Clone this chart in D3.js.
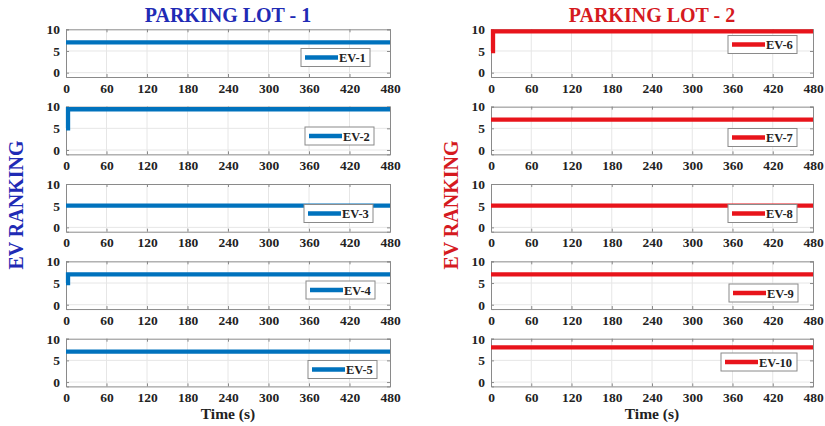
<!DOCTYPE html>
<html><head><meta charset="utf-8">
<script src="https://cdn.jsdelivr.net/npm/d3@7"></script>
<style>
body{margin:0;background:#fff}
svg{display:block}
text{font-family:"Liberation Serif","Times New Roman",serif;font-weight:bold}
</style>
</head><body>
<svg id="chart" width="825" height="426" font-family="Liberation Serif, serif"></svg>
<script>
// ---------- data ----------
const timeTicks = [0, 60, 120, 180, 240, 300, 360, 420, 480];
const rankTicks = [0, 5, 10];
const lotTitles = ["PARKING LOT - 1", "PARKING LOT - 2"];
const timeLabels = ["Time (s)", "Time  (s)"];
const yLabel = "EV RANKING";
const evNames = ["EV-1","EV-2","EV-3","EV-4","EV-5","EV-6","EV-7","EV-8","EV-9","EV-10"];
const ev1Time = [0, 480],        ev1Rank = [7, 7];
const ev2Time = [0, 3, 3, 480],  ev2Rank = [5, 5, 9.4, 9.4];
const ev3Time = [0, 480],        ev3Rank = [5, 5];
const ev4Time = [0, 3, 3, 480],  ev4Rank = [5, 5, 7, 7];
const ev5Time = [0, 480],        ev5Rank = [7, 7];
const ev6Time = [0, 3, 3, 480],  ev6Rank = [5, 5, 9.5, 9.5];
const ev7Time = [0, 480],        ev7Rank = [7, 7];
const ev8Time = [0, 480],        ev8Rank = [5, 5];
const ev9Time = [0, 480],        ev9Rank = [7, 7];
const ev10Time = [0, 480],       ev10Rank = [8, 8];

const evTimes = [ev1Time, ev2Time, ev3Time, ev4Time, ev5Time, ev6Time, ev7Time, ev8Time, ev9Time, ev10Time];
const evRanks = [ev1Rank, ev2Rank, ev3Rank, ev4Rank, ev5Rank, ev6Rank, ev7Rank, ev8Rank, ev9Rank, ev10Rank];

// ---------- layout ----------
const FONT = "'Liberation Serif', 'Times New Roman', serif";
const lotColors = ["#0072BD", "#E8141B"];
const titleColors = ["#1F2BB5", "#D51A1F"];
const colX = [[66, 390], [491, 813]];
const rowTop0 = 29.3, rowStep = 77.35, panelH = 47.7;
const legendRight = [370, 374, 373, 375, 377, 797, 797, 797, 798, 797];
const legendCy = [57.5, 136, 213.5, 290, 369.5, 44.5, 137.5, 213.5, 293, 362];

const svg = d3.select("#chart");

for (let c = 0; c < 2; c++) {
  const [x0, x1] = colX[c];
  const x = d3.scaleLinear().domain([0, 480]).range([x0, x1]);
  for (let r = 0; r < 5; r++) {
    const idx = c * 5 + r;
    const top = rowTop0 + r * rowStep;
    const y = d3.scaleLinear().domain([-1, 10]).range([top + panelH, top]);
    const g = svg.append("g");

    // grid
    g.append("g").selectAll("line").data(timeTicks.slice(1, -1)).join("line")
      .attr("x1", d => x(d)).attr("x2", d => x(d))
      .attr("y1", top).attr("y2", top + panelH)
      .attr("stroke", "#e6e6e6").attr("stroke-width", 1);
    g.append("g").selectAll("line").data(rankTicks.slice(0, -1)).join("line")
      .attr("x1", x0).attr("x2", x1)
      .attr("y1", d => y(d)).attr("y2", d => y(d))
      .attr("stroke", "#e6e6e6").attr("stroke-width", 1);

    // axes
    const ax = g.append("g").attr("transform", `translate(0,${top + panelH})`)
      .call(d3.axisBottom(x).tickValues(timeTicks).tickSize(-3).tickPadding(6));
    const axT = g.append("g").attr("transform", `translate(0,${top})`)
      .call(d3.axisTop(x).tickValues(timeTicks).tickSize(-3).tickFormat(""));
    const ay = g.append("g").attr("transform", `translate(${x0},0)`)
      .call(d3.axisLeft(y).tickValues(rankTicks).tickSize(-3).tickPadding(6));
    const ayR = g.append("g").attr("transform", `translate(${x1},0)`)
      .call(d3.axisRight(y).tickValues(rankTicks).tickSize(-3).tickFormat(""));
    [ax, axT, ay, ayR].forEach(a => {
      a.attr("font-family", FONT).attr("font-size", 13.5).attr("font-weight", "bold");
      a.select(".domain").attr("stroke", "#8a8a8a").attr("stroke-width", 1);
      a.selectAll(".tick line").attr("stroke", "#8a8a8a");
      a.selectAll(".tick text").attr("fill", "#222");
    });

    // line
    const pts = evTimes[idx].map((t, i) => [t, evRanks[idx][i]]);
    g.append("path").datum(pts)
      .attr("d", d3.line().x(d => x(d[0])).y(d => y(d[1])))
      .attr("fill", "none").attr("stroke", lotColors[c]).attr("stroke-width", 4.3);

    // legend
    const lw = evNames[idx].length > 4 ? 76 : 69, lh = 18;
    const lx = legendRight[idx] - lw, ly = legendCy[idx] - lh / 2;
    const lg = g.append("g");
    lg.append("rect").attr("x", lx).attr("y", ly).attr("width", lw).attr("height", lh)
      .attr("fill", "#fff").attr("stroke", "#8a8a8a").attr("stroke-width", 1);
    lg.append("line").attr("x1", lx + 4).attr("x2", lx + 37)
      .attr("y1", legendCy[idx]).attr("y2", legendCy[idx])
      .attr("stroke", lotColors[c]).attr("stroke-width", 4.3);
    lg.append("text").attr("x", lx + 38).attr("y", legendCy[idx] + 4.5)
      .attr("fill", "#222").attr("font-family", FONT).style("font-size", "12.5px").text(evNames[idx]);
  }

  // titles
  svg.append("text").attr("x", (x0 + x1) / 2).attr("y", 22)
    .attr("text-anchor", "middle").attr("fill", titleColors[c])
    .style("font-size", "20px").text(lotTitles[c]);
  svg.append("text").attr("x", (x0 + x1) / 2).attr("y", 419)
    .attr("text-anchor", "middle").attr("fill", "#222")
    .style("font-size", "15.5px").text(timeLabels[c]);
  const ylx = c === 0 ? 16 : 451;
  svg.append("text").attr("transform", `translate(${ylx + 7},205) rotate(-90)`)
    .attr("text-anchor", "middle").attr("fill", titleColors[c])
    .style("font-size", "20px").text(yLabel);
}
</script>
</body></html>
